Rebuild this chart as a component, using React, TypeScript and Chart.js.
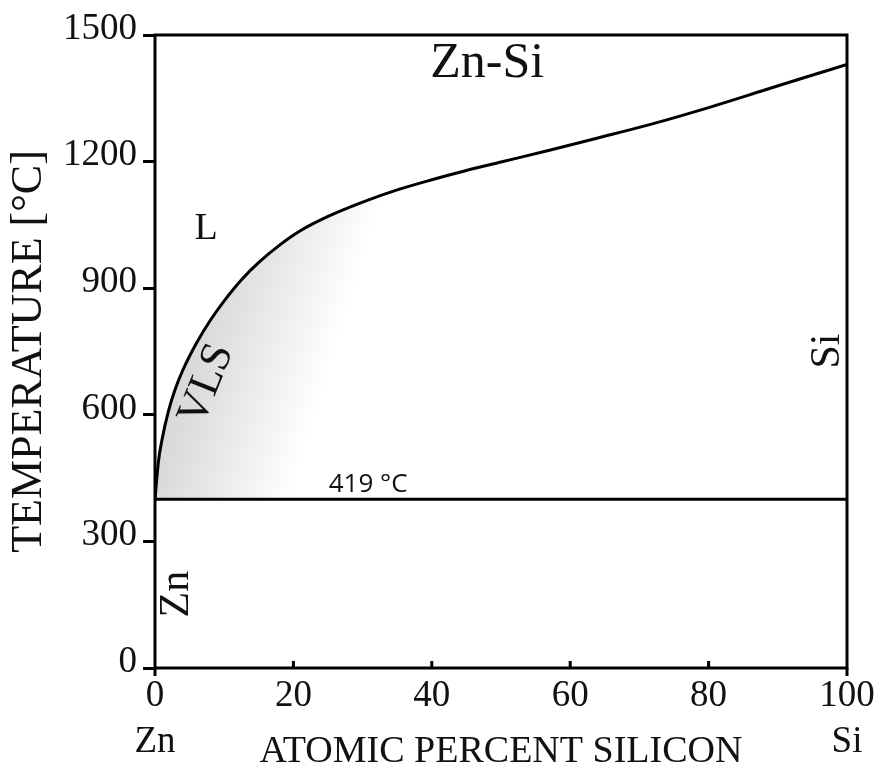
import React, { useEffect, useRef } from "react";
import { Chart, registerables } from "chart.js";

Chart.register(...registerables);

// ---- data ----
const liquidusX = [0, 0.5, 1, 2, 3, 4, 6, 8, 10, 12.5, 15, 18, 21, 25, 30, 35, 40, 45, 50, 57, 64, 72, 80, 88, 94, 100];
const liquidusT = [400, 490, 540, 612, 664, 705, 770, 824, 870, 920, 961, 1002, 1036, 1070, 1104, 1133, 1157, 1179, 1199, 1227, 1256, 1290, 1328, 1369, 1400, 1430];
const isothermX = [0, 100];
const isothermT = [400, 400];
const xTicks = [0, 20, 40, 60, 80, 100];
const yTicks = [0, 300, 600, 900, 1200, 1500];
const xEndLabels = ["Zn", "Si"];
const titleText = "Zn-Si";
const xTitle = "ATOMIC PERCENT SILICON";
const yTitle = "TEMPERATURE [°C]";
const regionLabels = ["L", "VLS", "419 °C", "Si", "Zn"];
const regionLabelAt = [
  [7.4, 1040],
  [7.5, 672],
  [30.8, 435],
  [97.3, 751],
  [3.2, 175],
];

// ---- styling (not data) ----
const SERIF = '"Liberation Serif", "Times New Roman", serif';
const SANS = '"Open Sans", "Noto Sans", sans-serif';
const INK = "#111";
const regionStyle = [
  { size: 38, rot: 0, family: SERIF },
  { size: 44, rot: -68, family: SERIF },
  { size: 26, rot: 0, family: SANS },
  { size: 42, rot: -90, family: SERIF },
  { size: 42, rot: -90, family: SERIF },
];

const boxPlugin = {
  id: "boxAndLabels",
  afterDatasetsDraw(chart: any) {
    const { ctx, chartArea: a, scales } = chart;
    const xs = scales.x;
    const ys = scales.y;
    ctx.save();
    ctx.strokeStyle = "#000";
    ctx.lineWidth = 3;
    ctx.strokeRect(a.left, a.top, a.right - a.left, a.bottom - a.top);
    ctx.beginPath();
    xTicks.forEach((v, i) => {
      const px = xs.getPixelForValue(v);
      if (i === 0 || i === xTicks.length - 1) {
        ctx.moveTo(px, a.bottom);
        ctx.lineTo(px, a.bottom + 8);
      } else {
        ctx.moveTo(px, a.bottom - 7);
        ctx.lineTo(px, a.bottom + 1);
      }
    });
    ctx.stroke();

    ctx.fillStyle = INK;
    ctx.textAlign = "center";
    ctx.textBaseline = "middle";
    ctx.font = `50px ${SERIF}`;
    ctx.fillText(titleText, xs.getPixelForValue(48), ys.getPixelForValue(1431));
    regionLabels.forEach((t, i) => {
      const st = regionStyle[i];
      const [vx, vy] = regionLabelAt[i];
      ctx.save();
      ctx.translate(xs.getPixelForValue(vx), ys.getPixelForValue(vy));
      ctx.rotate((st.rot * Math.PI) / 180);
      ctx.font = `${st.size}px ${st.family}`;
      ctx.fillText(t, 0, 0);
      ctx.restore();
    });
    ctx.restore();
  },
};

export default function App() {
  const ref = useRef<HTMLCanvasElement | null>(null);

  useEffect(() => {
    document.body.style.margin = "0";
    const canvas = ref.current;
    if (!canvas) return;
    const liquidus = liquidusX.map((x, i) => ({ x, y: liquidusT[i] }));
    const isotherm = isothermX.map((x, i) => ({ x, y: isothermT[i] }));

    const chart = new Chart(canvas, {
      type: "line",
      data: {
        datasets: [
          {
            data: liquidus,
            order: 1,
            borderColor: "#000",
            borderWidth: 3,
            pointRadius: 0,
            cubicInterpolationMode: "monotone",
            fill: 1,
            backgroundColor: (c: any) => {
              const ch = c.chart;
              if (!ch.chartArea) return "rgba(0,0,0,0)";
              const xs = ch.scales.x;
              const ys = ch.scales.y;
              const g = ch.ctx.createLinearGradient(
                xs.getPixelForValue(0),
                ys.getPixelForValue(800),
                xs.getPixelForValue(24.6),
                ys.getPixelForValue(676)
              );
              g.addColorStop(0, "#d0d0d0");
              g.addColorStop(0.3, "#dbdbdb");
              g.addColorStop(0.65, "#ededed");
              g.addColorStop(1, "#ffffff");
              return g;
            },
          },
          {
            data: isotherm,
            order: 0,
            borderColor: "#000",
            borderWidth: 3,
            pointRadius: 0,
            fill: false,
          },
        ],
      },
      options: {
        animation: false,
        responsive: false,
        devicePixelRatio: 1,
        parsing: false,
        layout: { padding: { left: 0, top: 35, right: 35, bottom: 0 } },
        plugins: { legend: { display: false }, tooltip: { enabled: false } },
        scales: {
          x: {
            type: "linear",
            min: 0,
            max: 100,
            afterBuildTicks: (s: any) => {
              s.ticks = xTicks.map((v) => ({ value: v }));
            },
            afterFit: (s: any) => {
              s.height = 105;
            },
            grid: { display: false, drawTicks: false },
            border: { display: false },
            ticks: {
              color: INK,
              padding: 5,
              maxRotation: 0,
              font: { family: SERIF, size: 37, lineHeight: 1.25 },
              callback: (v: any) =>
                v === xTicks[0]
                  ? [String(v), xEndLabels[0]]
                  : v === xTicks[xTicks.length - 1]
                  ? [String(v), xEndLabels[1]]
                  : String(v),
            },
            title: {
              display: true,
              text: xTitle,
              color: INK,
              font: { family: SERIF, size: 38, lineHeight: 1 },
              padding: { top: 0, bottom: 2 },
            },
          },
          y: {
            type: "linear",
            min: 0,
            max: 1500,
            afterBuildTicks: (s: any) => {
              s.ticks = yTicks.map((v) => ({ value: v }));
            },
            afterFit: (s: any) => {
              s.width = 155;
            },
            grid: {
              drawOnChartArea: false,
              drawTicks: true,
              tickLength: 12,
              color: "#000",
              lineWidth: 3,
            },
            border: { display: false },
            ticks: {
              color: INK,
              padding: 6,
              labelOffset: -6,
              font: { family: SERIF, size: 37, lineHeight: 1.2 },
              callback: (v: any) => String(v),
            },
            title: {
              display: true,
              text: yTitle,
              color: INK,
              font: { family: SERIF, size: 44, lineHeight: 1 },
              padding: { top: 7, bottom: 0 },
            },
          },
        },
      },
      plugins: [boxPlugin],
    } as any);

    if ((document as any).fonts && (document as any).fonts.load) {
      Promise.all([
        (document as any).fonts.load(`37px ${SERIF}`),
        (document as any).fonts.load(`26px ${SANS}`),
      ])
        .then(() => chart.update())
        .catch(() => {});
    }

    return () => chart.destroy();
  }, []);

  return (
    <div style={{ width: 882, height: 773, background: "#fff" }}>
      <canvas ref={ref} width={882} height={773} style={{ display: "block" }} />
    </div>
  );
}
